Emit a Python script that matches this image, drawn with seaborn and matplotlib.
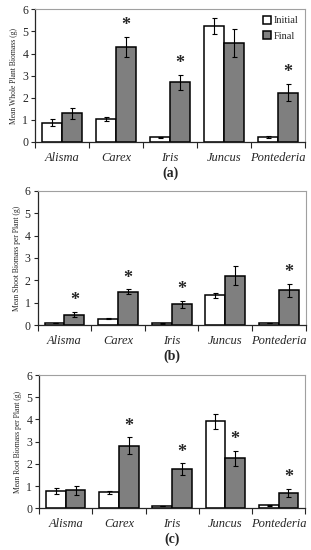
"""Biomass of five wetland genera, initial vs final, three stacked panels."""

import matplotlib.pyplot as plt
import numpy as np
import pandas as pd
import seaborn as sns

genera = ["Alisma", "Carex", "Iris", "Juncus", "Pontederia"]

# (a) whole plant
whole_initial = [0.87, 1.03, 0.20, 5.25, 0.22]
whole_initial_se = [0.15, 0.10, 0.03, 0.38, 0.05]
whole_final = [1.30, 4.30, 2.70, 4.47, 2.23]
whole_final_se = [0.25, 0.45, 0.35, 0.62, 0.40]
whole_star = [False, True, True, False, True]

# (b) shoot
shoot_initial = [0.08, 0.28, 0.08, 1.33, 0.08]
shoot_initial_se = [0.0, 0.02, 0.02, 0.12, 0.0]
shoot_final = [0.47, 1.50, 0.93, 2.20, 1.55]
shoot_final_se = [0.13, 0.10, 0.15, 0.42, 0.30]
shoot_star = [True, True, True, False, True]

# (c) root
root_initial = [0.78, 0.72, 0.08, 3.92, 0.13]
root_initial_se = [0.13, 0.07, 0.0, 0.33, 0.03]
root_final = [0.80, 2.82, 1.75, 2.25, 0.70]
root_final_se = [0.20, 0.38, 0.27, 0.35, 0.18]
root_star = [False, True, True, True, True]

sns.set_style("ticks")
plt.rcParams["font.family"] = ["Liberation Serif", "DejaVu Serif"]


def draw_panel(ax, initial, initial_se, final, final_se, star, ylabel, tag, legend):
    df = pd.DataFrame({
        "genus": genera * 2,
        "biomass": initial + final,
        "stage": ["Initial"] * 5 + ["Final"] * 5,
    })
    sns.barplot(data=df, x="genus", y="biomass", hue="stage",
                palette={"Initial": "white", "Final": "#7f7f7f"},
                edgecolor="black", linewidth=1.1, width=0.74, gap=0,
                errorbar=None, ax=ax, legend=legend)

    bars = ax.patches[:10]
    xs = [b.get_x() + b.get_width() / 2 for b in bars]
    ys = initial + final
    errs = initial_se + final_se
    ax.errorbar(xs, ys, yerr=errs, fmt="none", ecolor="black",
                elinewidth=0.8, capsize=1.8, capthick=0.8)
    for i, s in enumerate(star):
        if s:
            ax.text(xs[5 + i], final[i] + final_se[i] + 0.12, "*",
                    ha="center", va="bottom", fontsize=13, fontweight="bold")

    ax.set_ylim(0, 6)
    ax.set_xlim(-0.5, 4.5)
    ax.set_yticks(range(7))
    ax.tick_params(axis="y", labelsize=8.5, length=3, width=0.8, pad=2)
    ax.set_xticks(range(5))
    ax.set_xticklabels(genera, fontstyle="italic", fontsize=9)
    ax.tick_params(axis="x", which="major", length=0, pad=7)
    ax.set_xticks(np.arange(-0.5, 5, 1), minor=True)
    ax.tick_params(axis="x", which="minor", length=4, width=0.8)
    ax.set_xlabel(tag, fontsize=10, fontweight="bold", labelpad=2)
    ax.set_ylabel(ylabel, fontsize=5.5, labelpad=3)
    for side in ["top", "right"]:
        ax.spines[side].set_color("#a0a0a0")
        ax.spines[side].set_linewidth(0.8)
    for side in ["left", "bottom"]:
        ax.spines[side].set_linewidth(0.9)

    if legend:
        ax.legend(loc="upper right", frameon=False, fontsize=7.5,
                  handlelength=0.8, handleheight=0.8, handletextpad=0.3,
                  borderaxespad=0.2, labelspacing=0.6)


fig = plt.figure(figsize=(3.11, 5.5), dpi=100)
ax_a = fig.add_axes([0.113, 0.742, 0.868, 0.241])
ax_b = fig.add_axes([0.121, 0.409, 0.862, 0.244])
ax_c = fig.add_axes([0.126, 0.076, 0.855, 0.242])

draw_panel(ax_a, whole_initial, whole_initial_se, whole_final, whole_final_se,
           whole_star, "Mean Whole Plant Biomass (g)", "(a)", True)
draw_panel(ax_b, shoot_initial, shoot_initial_se, shoot_final, shoot_final_se,
           shoot_star, "Mean Shoot Biomass per Plant (g)", "(b)", False)
draw_panel(ax_c, root_initial, root_initial_se, root_final, root_final_se,
           root_star, "Mean Root Biomass per Plant (g)", "(c)", False)

fig.savefig("out.png", dpi=100)
